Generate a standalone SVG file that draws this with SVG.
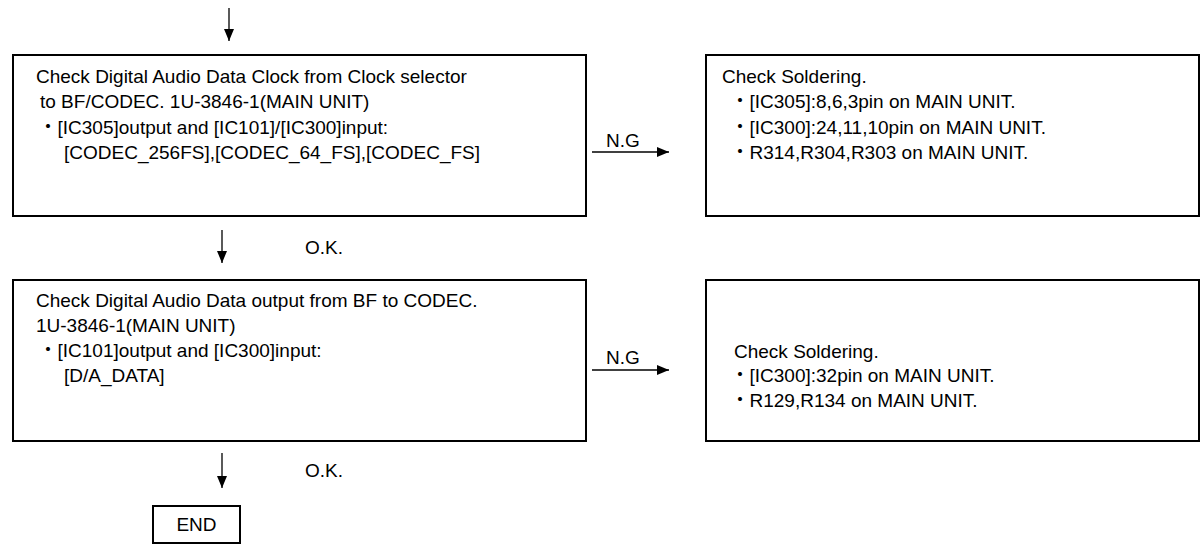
<svg xmlns="http://www.w3.org/2000/svg" width="1201" height="545" viewBox="0 0 1201 545">
<style>
  .box { fill: #fff; stroke: #000; stroke-width: 2; }
  .t { font-family: "Liberation Sans", Arial, "Noto Sans CJK JP", sans-serif; font-size: 19px; fill: #000; }
  .c { stroke: #000; stroke-width: 1.3; fill: none; marker-end: url(#ah); }
</style>
<defs>
  <marker id="ah" viewBox="0 0 12 10" refX="12" refY="5" markerWidth="12" markerHeight="10" markerUnits="userSpaceOnUse" orient="auto">
    <path d="M0,0 L12,5 L0,10 z" fill="#000"/>
  </marker>
</defs>
<rect width="1201" height="545" fill="#fff"/>
<g id="connectors">
  <line class="c" x1="229" y1="8" x2="229" y2="41"/>
  <line class="c" x1="222" y1="230" x2="222" y2="263"/>
  <line class="c" x1="222" y1="453" x2="222" y2="488"/>
  <line class="c" x1="592" y1="152" x2="669" y2="152"/>
  <line class="c" x1="592" y1="370" x2="669" y2="370"/>
  <text class="t" x="305" y="254">O.K.</text>
  <text class="t" x="305" y="477">O.K.</text>
  <text class="t" x="606" y="147">N.G</text>
  <text class="t" x="606" y="364">N.G</text>
</g>
<g id="check-clock">
  <rect class="box" x="13" y="55" width="573" height="161"/>
  <text class="t" x="36" y="83">Check Digital Audio Data Clock from Clock selector</text>
  <text class="t" x="40" y="108">to BF/CODEC. 1U-3846-1(MAIN UNIT)</text>
  <text class="t" x="38.5" y="134">・[IC305]output and [IC101]/[IC300]input:</text>
  <text class="t" x="64" y="159">[CODEC_256FS],[CODEC_64_FS],[CODEC_FS]</text>
</g>
<g id="solder-clock">
  <rect class="box" x="706" y="55" width="493" height="161"/>
  <text class="t" x="722" y="83">Check Soldering.</text>
  <text class="t" x="730.5" y="108">・[IC305]:8,6,3pin on MAIN UNIT.</text>
  <text class="t" x="730.5" y="134">・[IC300]:24,11,10pin on MAIN UNIT.</text>
  <text class="t" x="730.5" y="159">・R314,R304,R303 on MAIN UNIT.</text>
</g>
<g id="check-data">
  <rect class="box" x="13" y="280" width="573" height="161"/>
  <text class="t" x="36" y="307">Check Digital Audio Data output from BF to CODEC.</text>
  <text class="t" x="36" y="332">1U-3846-1(MAIN UNIT)</text>
  <text class="t" x="38.5" y="357">・[IC101]output and [IC300]input:</text>
  <text class="t" x="64" y="382">[D/A_DATA]</text>
</g>
<g id="solder-data">
  <rect class="box" x="706" y="280" width="493" height="161"/>
  <text class="t" x="734" y="358">Check Soldering.</text>
  <text class="t" x="730.5" y="382">・[IC300]:32pin on MAIN UNIT.</text>
  <text class="t" x="730.5" y="407">・R129,R134 on MAIN UNIT.</text>
</g>
<g id="end">
  <rect class="box" x="153" y="506" width="87" height="37"/>
  <text class="t" x="196.5" y="531" text-anchor="middle">END</text>
</g>
</svg>
